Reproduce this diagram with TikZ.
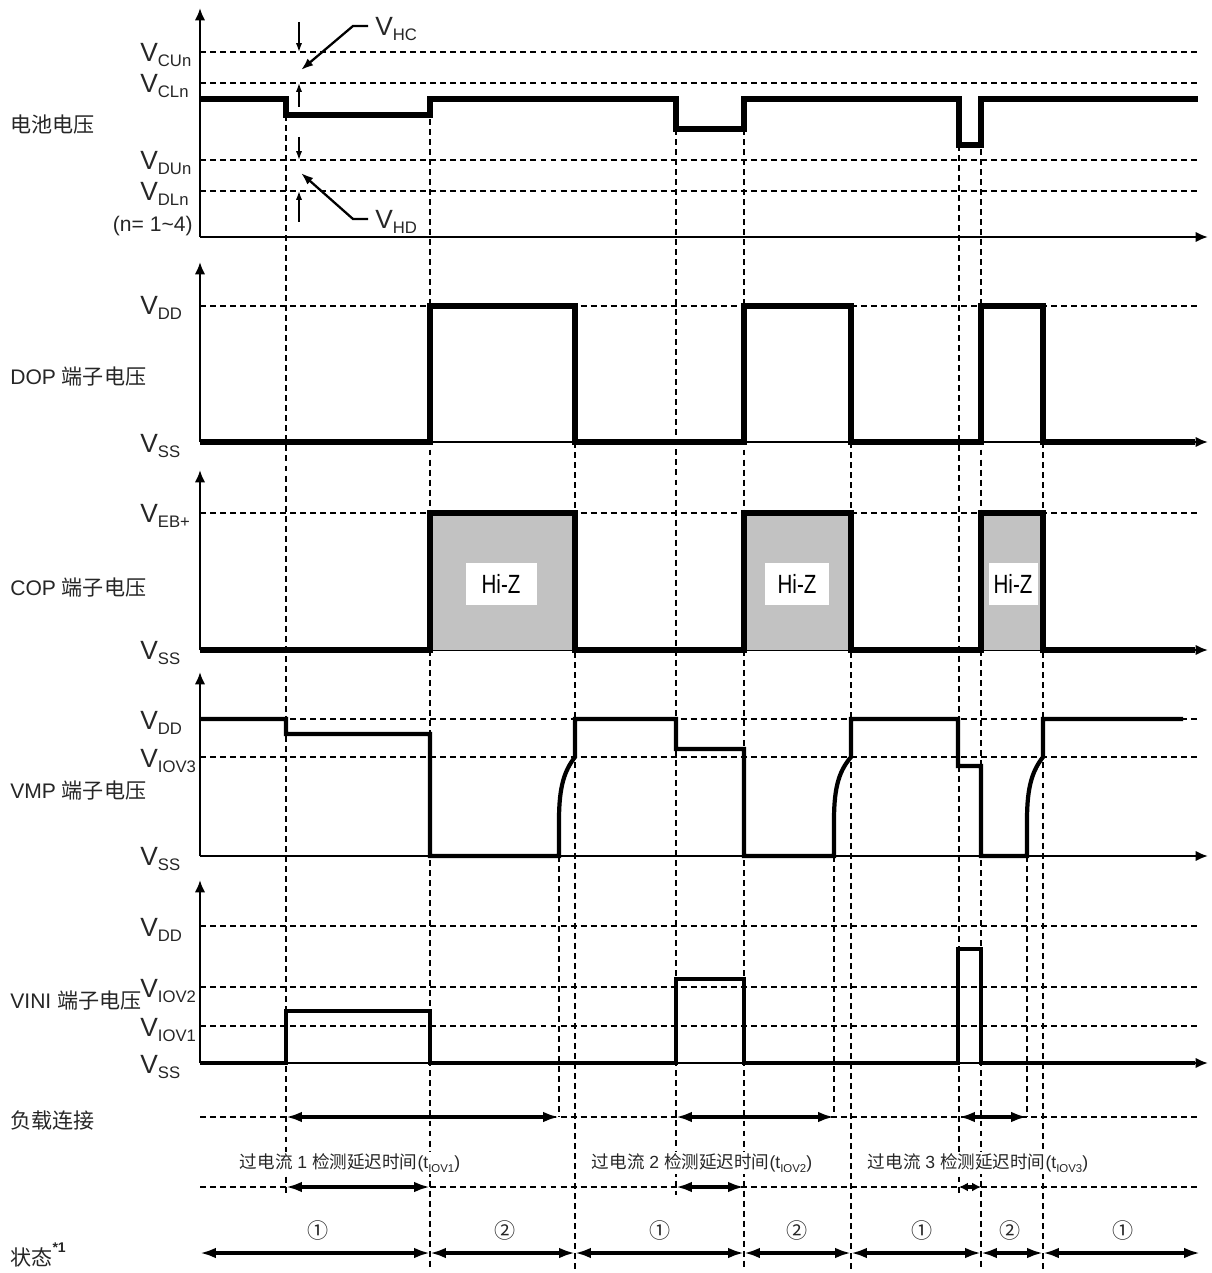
\documentclass[tikz,border=0pt]{standalone}
\usepackage{fontspec}
\setmainfont{Liberation Sans}
\newfontfamily\cjk{Noto Sans CJK SC}
\usetikzlibrary{arrows.meta}
\definecolor{hizgray}{gray}{0.76}
\newcommand{\volt}[1]{V\raisebox{-0.35ex}{\fontsize{9.5}{9.5}\selectfont #1}}
\newcommand{\hizt}{\scalebox{0.78}[1]{Hi-Z}}
\tikzset{
  sig/.style={line width=2.9pt},
  sigthin/.style={line width=2.4pt},
  taxis/.style={line width=1.3pt,-{Latex[length=7pt,width=6pt]}},
  guide/.style={line width=1pt,dash pattern=on 3.4pt off 2.3pt},
  span/.style={line width=2pt,{Latex[length=9pt,width=6pt]}-{Latex[length=9pt,width=6pt]}},
  hmark/.style={line width=0.8pt,-{Latex[length=5pt,width=3.5pt]}},
  lead/.style={line width=1.3pt,-{Latex[length=7pt,width=5pt]}},
  vlab/.style={anchor=west,inner sep=0pt,text=black!85,font=\fontsize{15}{15}\selectfont},
  rowlab/.style={anchor=west,inner sep=0pt,text=black!85,font=\fontsize{12}{12}\selectfont},
  hiz/.style={fill=white,inner sep=0pt,minimum height=0.84cm,font=\fontsize{15}{15}\selectfont},
  note/.style={fill=white,inner sep=1pt,text=black!85,font=\fontsize{10}{10}\selectfont},
  num/.style={inner sep=0pt,text=black!85,font=\cjk\fontsize{12}{12}\selectfont},
}
\begin{document}
\begin{tikzpicture}[x=0.02cm,y=-0.02cm]
  \useasboundingbox (0,0) rectangle (1211,1273);
  %% Time instants and bottom rows
  \foreach \n/\x in {a/200,t1/286,t2/430,t3/559,t4/575,t5/676,t6/744,t7/834,t8/851,t9/959,t10/981,t11/1027,t12/1043,e/1200}
    \coordinate (\n) at (\x,0);
  \coordinate (ld) at (0,1117);
  \coordinate (dl) at (0,1187);
  \coordinate (st) at (0,1253);
  %% Guides
  \foreach \y in {52,83,160,191,306,513,719,757,926,987,1026,1117,1187}
    \draw[guide] (a |- 0,\y) -- (e |- 0,\y);
  \foreach \n/\ya/\yb in {t1/115/1195,t2/99/1270,t3/856/1117,t4/442/1270,t5/129/1195,t6/99/1270,t7/856/1117,t8/442/1270,t9/145/1195,t10/99/1270,t11/856/1117,t12/442/1270}
    \draw[guide] (\n |- 0,\ya) -- (\n |- 0,\yb);
  %% Axes
  \foreach \ytop/\ybot in {8/237,262/442,470/650,672/856,880/1063}{
    \draw[taxis] (a |- 0,\ybot) -- (a |- 0,\ytop);
    \draw[taxis] (a |- 0,\ybot) -- (1208,\ybot);
  }
  %% Battery voltage
  \node[rowlab] (bat) at (10,125) {\cjk 电池电压};
  \node[vlab] (vcu) at (140,55) {\volt{CUn}};
  \node[vlab] (vcl) at (140,86) {\volt{CLn}};
  \node[vlab] (vdu) at (140,163) {\volt{DUn}};
  \node[vlab] (vdl) at (140,194) {\volt{DLn}};
  \node[rowlab,anchor=east] (nrange) at (193,226) {(n= 1\textasciitilde4)};
  \draw[sig] (200,99) -| (286,115) -| (430,99) -| (676,129) -| (744,99) -| (959,145) -| (981,99) -- (1198,99);
  \draw[hmark] (299,22) -- (299,52);
  \draw[hmark] (299,107) -- (299,83);
  \draw[hmark] (299,137) -- (299,160);
  \draw[hmark] (299,222) -- (299,191);
  \node[vlab] (vhc) at (375,29) {\volt{HC}};
  \node[vlab] (vhd) at (375,222) {\volt{HD}};
  \draw[lead] (vhc.west) ++(-7,-3) -- ++(-15,0) -- (301,70);
  \draw[lead] (vhd.west) ++(-7,-3) -- ++(-15,0) -- (301,173);
  %% DOP
  \node[rowlab] (dop) at (10,377) {DOP {\cjk 端子电压}};
  \node[vlab] (dopdd) at (140,308) {\volt{DD}};
  \node[vlab] (dopss) at (140,446) {\volt{SS}};
  \draw[sig] (200,442) -| (430,306) -| (575,442) -| (744,306) -| (851,442) -| (981,306) -| (1043,442) -- (1195,442);
  %% COP
  \node[rowlab] (cop) at (10,588) {COP {\cjk 端子电压}};
  \node[vlab] (copeb) at (140,516) {\volt{EB+}};
  \node[vlab] (copss) at (140,653) {\volt{SS}};
  \fill[hizgray] (430,513) rectangle (575,650);
  \fill[hizgray] (744,513) rectangle (851,650);
  \fill[hizgray] (981,513) rectangle (1043,650);
  \draw[sig] (200,650) -| (430,513) -| (575,650) -| (744,513) -| (851,650) -| (981,513) -| (1043,650) -- (1195,650);
  \node[hiz,minimum width=1.42cm] (hz1) at (501,584) {\hizt};
  \node[hiz,minimum width=1.28cm] (hz2) at (797,584) {\hizt};
  \node[hiz,minimum width=0.98cm] (hz3) at (1013,584) {\hizt};
  %% VMP
  \node[rowlab] (vmp) at (10,791) {VMP {\cjk 端子电压}};
  \node[vlab] (vmpdd) at (140,723) {\volt{DD}};
  \node[vlab] (vmpiov) at (140,761) {\volt{IOV3}};
  \node[vlab] (vmpss) at (140,859) {\volt{SS}};
  \draw[sigthin] (200,719) -| (286,734) -| (430,856) -- (559,856) -- (559,820)
    .. controls (559,785) and (565,770) .. (575,757) -- (575,719) -| (676,749) -| (744,856)
    -- (834,856) -- (834,820) .. controls (834,785) and (840,770) .. (851,757) -- (851,719)
    -| (958,766) -| (981,856) -- (1027,856) -- (1027,820) .. controls (1027,785) and (1033,770) .. (1043,757)
    -- (1043,719) -- (1183,719);
  %% VINI
  \node[rowlab] (vini) at (10,1001) {VINI {\cjk 端子电压}};
  \node[vlab] (vinidd) at (140,930) {\volt{DD}};
  \node[vlab] (viniiov2) at (140,991) {\volt{IOV2}};
  \node[vlab] (viniiov1) at (140,1030) {\volt{IOV1}};
  \node[vlab] (viniss) at (140,1067) {\volt{SS}};
  \draw[sigthin] (200,1063) -| (286,1011) -| (430,1063) -| (676,979) -| (744,1063) -| (958,949) -| (981,1063) -- (1195,1063);
  %% Load connection
  \node[rowlab] (load) at (10,1120) {\cjk 负载连接};
  \draw[span] (t1 |- ld) -- (t3 |- ld);
  \draw[span] (t5 |- ld) -- (t7 |- ld);
  \draw[span] (t9 |- ld) -- (t11 |- ld);
  %% Detection delay
  \node[note] (dly1) at (350,1163) {{\cjk 过电流} 1 {\cjk 检测延迟时间}(t\raisebox{-0.4ex}{\fontsize{6.5}{6.5}\selectfont IOV1})};
  \node[note] (dly2) at (702,1163) {{\cjk 过电流} 2 {\cjk 检测延迟时间}(t\raisebox{-0.4ex}{\fontsize{6.5}{6.5}\selectfont IOV2})};
  \node[note] (dly3) at (978,1163) {{\cjk 过电流} 3 {\cjk 检测延迟时间}(t\raisebox{-0.4ex}{\fontsize{6.5}{6.5}\selectfont IOV3})};
  \draw[span] (t1 |- dl) -- (t2 |- dl);
  \draw[span] (t5 |- dl) -- (t6 |- dl);
  \draw[span,{Latex[length=5pt,width=5pt]}-{Latex[length=5pt,width=5pt]}] (t9 |- dl) -- (t10 |- dl);
  %% State
  \node[rowlab] (state) at (10,1255) {{\cjk 状态}\raisebox{1.1ex}{\fontsize{8}{8}\selectfont\bfseries *1}};
  \foreach \p/\q in {a/t2,t2/t4,t4/t6,t6/t8,t8/t10,t10/t12,t12/e}
    \draw[span] (\p |- st) -- (\q |- st);
  \foreach \n/\x/\s in {s1/318/①,s2/505/②,s3/660/①,s4/797/②,s5/922/①,s6/1010/②,s7/1123/①}
    \node[num] (\n) at (\x,1230) {\s};
\end{tikzpicture}
\end{document}
